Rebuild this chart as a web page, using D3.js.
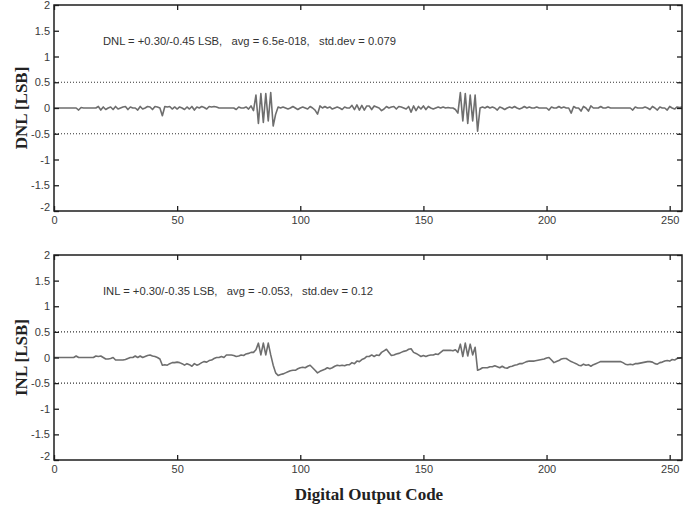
<!DOCTYPE html>
<html>
<head>
<meta charset="utf-8">
<script src="https://cdn.jsdelivr.net/npm/d3@7"></script>
<style>
  html, body { margin: 0; padding: 0; background: #fff; }
  svg { display: block; }
</style>
</head>
<body>
<svg id="chart" width="700" height="508"></svg>
<script>
// ---------------- data ----------------
const codes = d3.range(0, 256); // digital output code 0..255

const dnlValues = [
  0,0,0,0,0,0,0,0,0,0,-0.04,0.01,0,0,0,0,
  0,0,0.03,-0.04,0.02,-0.03,0,0.02,-0.03,0.03,-0.02,0,0.02,0.03,-0.03,0.02,
  0,0,-0.04,0.03,-0.02,0,0.03,0.02,-0.03,0.03,0.02,0,-0.15,0.03,0.02,0.03,
  -0.02,0.02,-0.02,0.02,0,-0.03,0.02,-0.02,0.03,-0.04,0.02,0,0.03,0.01,-0.02,0.03,
  0.02,0.03,0.02,0,0,0,0,0,0,0,-0.03,0.02,0,0,0.02,-0.02,
  0.04,-0.05,0.25,-0.3,0.28,-0.28,0.28,-0.25,0.3,-0.35,-0.12,0.02,0,0.02,0,-0.02,
  0,0.03,0,-0.03,0,0.02,0,-0.02,0.03,0,-0.04,-0.12,0.04,0,0.03,0,
  0.02,-0.02,0,0.02,0,-0.03,0.02,0,0,0.05,-0.03,0.06,-0.04,0.05,-0.04,0.04,
  0.04,-0.03,0.04,0.02,0,-0.05,-0.02,0.03,0,0.02,0.03,-0.02,0.03,0.02,0,-0.02,
  0.03,-0.08,0.04,-0.05,0.03,-0.02,0.04,-0.03,0.03,0,-0.02,0,0.02,0,0.02,0,
  0.01,0,0,-0.03,-0.1,0.3,-0.25,0.28,-0.3,0.25,-0.25,0.25,-0.45,0,0.02,0,
  0.03,0,0.02,0,-0.04,0.02,0,-0.03,0,0.02,0,0.03,0,-0.02,0,0.03,
  0,0.02,0,0,0.02,0,0,0,0,-0.04,0.02,0,0,0.03,0,0.02,
  0,0,-0.1,0.03,0,0,-0.06,0.03,0,-0.06,0.04,0,0,0,0.03,0,
  0,0.02,0,0,0,0,0,0,0,0,0,-0.04,0.02,0,0,0,
  0.02,0,-0.03,0.03,0,-0.04,0.02,0,0,-0.04,0.03,0,-0.02,0.02,0.01,0.02
];

const inlValues = [
  0,0,0,0,0,0,0,0,0,0.03,0,0,0,0,0,0,
  0,0.03,0.02,0.03,0,-0.03,-0.03,-0.02,0,-0.05,-0.05,-0.05,-0.05,-0.04,-0.02,0,
  0,0.03,0,0.03,0,0.02,0.04,0.05,0.03,0.02,0,-0.03,-0.15,-0.14,-0.15,-0.12,
  -0.1,-0.1,-0.09,-0.1,-0.12,-0.15,-0.12,-0.14,-0.17,-0.12,-0.15,-0.13,-0.1,-0.08,-0.09,-0.06,
  -0.05,-0.02,0,0,0.02,0,0.05,0.05,0.05,0.04,0.02,0.03,0.05,0.04,0.07,0.08,
  0.1,0.1,0.15,0.28,0.05,0.28,0.05,0.28,0.05,-0.15,-0.3,-0.35,-0.33,-0.32,-0.3,-0.28,
  -0.26,-0.25,-0.25,-0.22,-0.2,-0.19,-0.2,-0.17,-0.15,-0.2,-0.25,-0.3,-0.27,-0.25,-0.23,-0.2,
  -0.22,-0.2,-0.17,-0.15,-0.16,-0.15,-0.16,-0.14,-0.14,-0.1,-0.12,-0.07,-0.08,-0.04,-0.02,0.02,
  0.02,0.05,0.02,0.05,0.04,0.1,0.13,0.16,0.1,0.04,0.05,0.07,0.08,0.1,0.12,0.13,
  0.16,0.17,0.1,0.08,0.05,0.02,0.04,0.02,0.04,0.05,0.05,0.07,0.06,0.1,0.14,0.14,
  0.14,0.14,0.13,0.15,0.1,0.26,0.02,0.28,0.03,0.26,0.05,0.2,-0.25,-0.23,-0.2,-0.2,
  -0.2,-0.18,-0.18,-0.16,-0.18,-0.2,-0.17,-0.2,-0.21,-0.18,-0.17,-0.15,-0.14,-0.12,-0.12,-0.1,
  -0.08,-0.07,-0.07,-0.07,-0.06,-0.05,-0.04,-0.03,-0.01,0,-0.05,-0.1,-0.08,-0.06,-0.03,-0.02,
  -0.02,-0.05,-0.08,-0.1,-0.12,-0.15,-0.16,-0.13,-0.15,-0.14,-0.17,-0.14,-0.12,-0.1,-0.08,-0.08,
  -0.08,-0.08,-0.08,-0.08,-0.08,-0.08,-0.08,-0.1,-0.13,-0.14,-0.13,-0.14,-0.12,-0.12,-0.11,-0.1,
  -0.09,-0.08,-0.08,-0.09,-0.12,-0.13,-0.1,-0.09,-0.07,-0.06,-0.07,-0.04,-0.05,-0.02,-0.01,0
];

const xTicks = [0, 50, 100, 150, 200, 250];
const yTicks = [-2, -1.5, -1, -0.5, 0, 0.5, 1, 1.5, 2];
const limitLines = [0.5, -0.5];
const panelTitles = ["DNL [LSB]", "INL [LSB]"];
const panelNotes = [
  "DNL = +0.30/-0.45 LSB,   avg = 6.5e-018,   std.dev = 0.079",
  "INL = +0.30/-0.35 LSB,   avg = -0.053,   std.dev = 0.12"
];
const xTitle = "Digital Output Code";

// ---------------- drawing ----------------
const svg = d3.select("#chart");
const left = 54, right = 682;
const panels = [
  { top: 5, bottom: 211, values: dnlValues, title: panelTitles[0], note: panelNotes[0], noteW: 293 },
  { top: 255, bottom: 460, values: inlValues, title: panelTitles[1], note: panelNotes[1], noteW: 270 }
];

const x = d3.scaleLinear().domain([0, 255]).range([left, right]);
const tickFont = "'Liberation Sans', Arial, sans-serif";
const axisColor = "#1e1e1e";

panels.forEach(p => {
  const y = d3.scaleLinear().domain([-2, 2]).range([p.bottom, p.top]);
  const g = svg.append("g");

  // dotted limit lines
  g.selectAll("line.limit").data(limitLines).enter().append("line")
    .attr("class", "limit")
    .attr("x1", left + 1).attr("x2", right - 1)
    .attr("y1", d => y(d)).attr("y2", d => y(d))
    .attr("stroke", "#333").attr("stroke-width", 1.1)
    .attr("stroke-dasharray", "1,2");

  // data line
  const line = d3.line().x((d, i) => x(codes[i])).y(d => y(d));
  g.append("path")
    .datum(p.values)
    .attr("d", line)
    .attr("fill", "none")
    .attr("stroke", "#6e6e6e")
    .attr("stroke-width", 1.6)
    .attr("stroke-linejoin", "round");

  // axes (ticks inward, labels on bottom & left only)
  const fmt = d => String(d);
  const bottomAx = g.append("g").attr("transform", `translate(0,${p.bottom})`)
    .call(d3.axisBottom(x).tickValues(xTicks).tickSizeInner(-5).tickSizeOuter(0).tickPadding(5).tickFormat(fmt));
  const topAx = g.append("g").attr("transform", `translate(0,${p.top})`)
    .call(d3.axisTop(x).tickValues(xTicks).tickSizeInner(-5).tickSizeOuter(0).tickFormat(""));
  const leftAx = g.append("g").attr("transform", `translate(${left},0)`)
    .call(d3.axisLeft(y).tickValues(yTicks).tickSizeInner(-5).tickSizeOuter(0).tickPadding(4).tickFormat(fmt));
  const rightAx = g.append("g").attr("transform", `translate(${right},0)`)
    .call(d3.axisRight(y).tickValues(yTicks).tickSizeInner(-5).tickSizeOuter(0).tickFormat(""));

  [bottomAx, topAx, leftAx, rightAx].forEach(a => {
    a.selectAll(".domain").attr("stroke", "none");
    a.selectAll(".tick line").attr("stroke", axisColor).attr("stroke-width", 1.3);
    a.selectAll("text").attr("font-family", tickFont).attr("font-size", 11).attr("fill", "#3a3a3a");
  });
  leftAx.selectAll(".tick").filter(d => d === -2).select("text").attr("dy", "-0.05em");

  // annotation
  g.append("text")
    .attr("x", 103).attr("y", y(1.3) + 4)
    .attr("font-family", tickFont).attr("font-size", 10.5)
    .attr("fill", "#333")
    .style("white-space", "pre")
    .attr("textLength", p.noteW).attr("lengthAdjust", "spacingAndGlyphs")
    .text(p.note);

  // y title
  g.append("text")
    .attr("transform", `translate(27,${(p.top + p.bottom) / 2}) rotate(-90)`)
    .attr("text-anchor", "middle")
    .attr("font-family", "'Liberation Serif', 'Times New Roman', serif")
    .attr("font-weight", "bold").attr("font-size", 17)
    .attr("fill", "#222")
    .text(p.title);
});

svg.append("text")
  .attr("x", 369).attr("y", 500)
  .attr("text-anchor", "middle")
  .attr("font-family", "'Liberation Serif', 'Times New Roman', serif")
  .attr("font-weight", "bold").attr("font-size", 17)
  .attr("fill", "#222")
  .text(xTitle);

// frames drawn last, on top of everything
svg.append("g").attr("class", "frames")
  .selectAll("path").data(panels).enter().append("path")
  .attr("d", p => `M${left},${p.top}H${right}V${p.bottom}H${left}Z`)
  .attr("fill", "none")
  .attr("stroke", axisColor)
  .attr("stroke-width", 1.5);
</script>
</body>
</html>
